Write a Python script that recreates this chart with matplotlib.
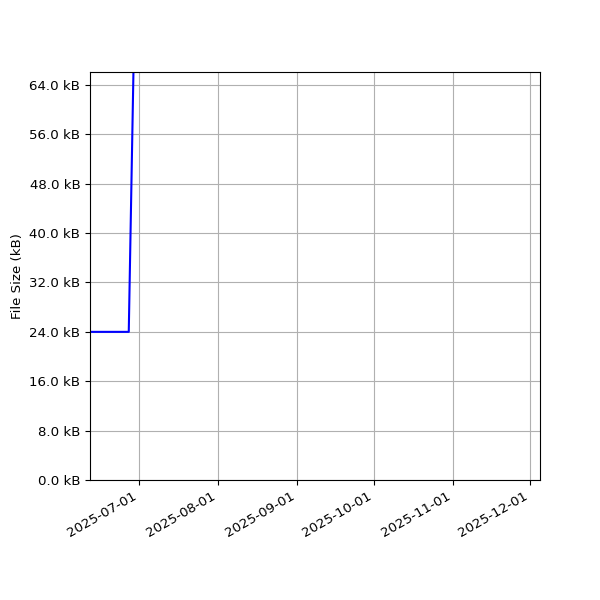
import matplotlib
matplotlib.use('Agg')
import matplotlib.pyplot as plt
import matplotlib.dates as mdates
from matplotlib.ticker import MultipleLocator, FuncFormatter
from datetime import datetime

plt.rcParams['font.size'] = 9.6

# 데이터
dates = [datetime(2025, 6, 10), datetime(2025, 6, 27), datetime(2025, 6, 29)]
sizes_kb = [24.0, 24.0, 70.0]

x_start = datetime(2025, 6, 11, 20)
x_end = datetime(2025, 12, 4, 22)
y_max = 66.1

fig, ax = plt.subplots(figsize=(6, 6), dpi=100)
ax.plot(dates, sizes_kb, color='blue')

ax.set_xlim(x_start, x_end)
ax.set_ylim(0, y_max)
ax.set_ylabel('File Size (kB)')

ax.yaxis.set_major_locator(MultipleLocator(8))
ax.yaxis.set_major_formatter(FuncFormatter(lambda v, p: f'{v:.1f} kB'))
ax.xaxis.set_major_locator(mdates.MonthLocator())
ax.xaxis.set_major_formatter(mdates.DateFormatter('%Y-%m-%d'))
ax.grid(True)

fig.autofmt_xdate()
fig.subplots_adjust(left=0.15, right=0.9, top=0.88, bottom=0.2)
fig.savefig('out.png', dpi=100)
